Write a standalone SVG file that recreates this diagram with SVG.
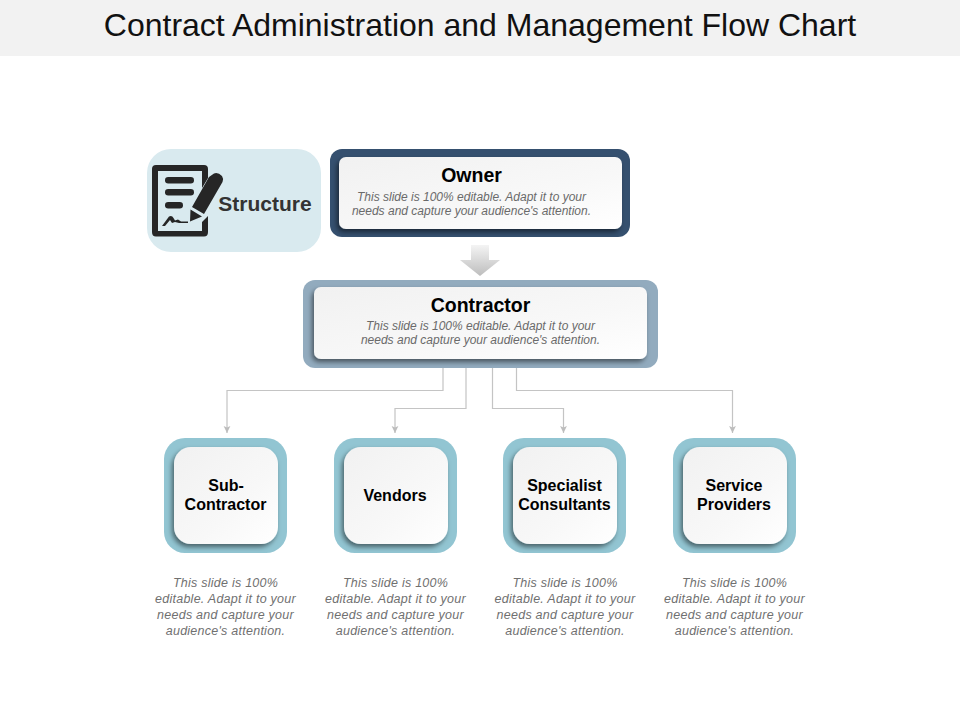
<svg xmlns="http://www.w3.org/2000/svg" width="960" height="720" viewBox="0 0 960 720">
<defs>
<linearGradient id="card" x1="0" y1="0" x2="1" y2="1"><stop offset="0" stop-color="#f1f1f1"/><stop offset="0.6" stop-color="#f8f8f8"/><stop offset="1" stop-color="#ffffff"/></linearGradient>
<linearGradient id="arr" x1="0" y1="0" x2="0" y2="1"><stop offset="0" stop-color="#f4f4f4"/><stop offset="1" stop-color="#bdbdbd"/></linearGradient>
<filter id="sh" x="-20%" y="-20%" width="140%" height="140%"><feDropShadow dx="-2" dy="3" stdDeviation="2.5" flood-color="#000" flood-opacity="0.5"/></filter>
<marker id="ah" markerWidth="8" markerHeight="8" refX="7" refY="4" orient="auto" markerUnits="userSpaceOnUse"><path d="M0,0.6 L7,4 L0,7.4 L1.5,4 Z" fill="#bdbdbd"/></marker>
</defs>
<style>
text{font-family:"Liberation Sans",Arial,sans-serif}
.title{font-size:32px;fill:#111;text-anchor:middle}
.h{font-size:19.5px;font-weight:bold;fill:#000;text-anchor:middle}
.n{font-size:16px;font-weight:bold;fill:#000;text-anchor:middle}
.d{font-size:12px;font-style:italic;fill:#6a6a6a;text-anchor:middle}
.b{font-size:12.5px;font-style:italic;fill:#707070;text-anchor:middle;letter-spacing:0.25px}
.card{fill:url(#card);filter:url(#sh)}
.teal{fill:#92c5d2}
.c{fill:none;stroke:#c4c4c4;stroke-width:1.2;marker-end:url(#ah)}
</style>
<rect width="960" height="720" fill="#fff"/>
<rect id="title-band" width="960" height="56" fill="#f2f2f2"/>
<text class="title" x="480" y="36">Contract Administration and Management Flow Chart</text>

<g id="structure">
<rect x="147" y="149" width="174" height="103" rx="24" fill="#d9eaef"/>
<path fill-rule="evenodd" fill="#262626" d="M156,165 H204 Q208,165 208,169 V178 L202,188 V171 H158 V231 H202 V222 L208,216 V232 Q208,236.500 204,236.500 H156 Q152,236.500 152,232 V169 Q152,165 156,165 Z"/>
<g fill="#262626"><rect x="165" y="177" width="29" height="6.500" rx="3.200"/><rect x="165" y="189" width="29" height="6.500" rx="3.200"/><rect x="165" y="202" width="18" height="6.500" rx="3.200"/></g>
<path fill="#262626" d="M209,177 L214,173.500 Q218,172 222,176 Q224,179 222.500,182 L204,214 L192,207 Z M190.500,209.500 L202,216.500 L190,221.500 Z"/>
<path fill="#262626" d="M162,226 L169,216.500 Q172,215 173.500,218 L175,220.500 L178,219.500 L181,221.500 H188 V223 H179 L175,222 L172,223 L170,220 L165,226 Z"/>
<text x="265" y="211" font-size="21" font-weight="bold" fill="#333" text-anchor="middle">Structure</text>
</g>

<g id="owner">
<rect x="330" y="149" width="300" height="88" rx="12" fill="#35506f"/>
<rect class="card" x="339" y="157" width="283" height="72" rx="7"/>
<text class="h" x="471.500" y="182">Owner</text>
<text class="d" x="471.500" y="201">This slide is 100% editable. Adapt it to your</text>
<text class="d" x="471.500" y="215">needs and capture your audience's attention.</text>
</g>

<path id="flow-arrow" d="M471,245 H489 V260 H500 L480,276 L460,260 H471 Z" fill="url(#arr)"/>

<g id="contractor">
<rect x="303" y="280" width="355" height="88" rx="12" fill="#92abbe"/>
<rect class="card" x="314" y="287" width="333" height="72" rx="7"/>
<text class="h" x="480.500" y="312">Contractor</text>
<text class="d" x="480.500" y="330">This slide is 100% editable. Adapt it to your</text>
<text class="d" x="480.500" y="344">needs and capture your audience's attention.</text>
</g>

<g id="connectors">
<path class="c" d="M443,368 V390.500 H227 V433"/>
<path class="c" d="M466,368 V408.500 H395 V433"/>
<path class="c" d="M492.500,368 V408.500 H563.500 V433"/>
<path class="c" d="M516.500,368 V390.500 H732.500 V433"/>
</g>

<g id="sub-contractor">
<rect class="teal" x="164" y="438" width="123" height="115" rx="21"/>
<rect class="card" x="174" y="447" width="104" height="97" rx="17"/>
<text class="n" x="226" y="490.500">Sub-</text>
<text class="n" x="225.500" y="509.500">Contractor</text>
<text class="b" x="225.500" y="587">This slide is 100%</text>
<text class="b" x="225.500" y="603">editable. Adapt it to your</text>
<text class="b" x="225.500" y="619">needs and capture your</text>
<text class="b" x="225.500" y="635">audience's attention.</text>
</g>

<g id="vendors">
<rect class="teal" x="334" y="438" width="123" height="115" rx="21"/>
<rect class="card" x="344" y="447" width="104" height="97" rx="17"/>
<text class="n" x="395" y="500.500">Vendors</text>
<text class="b" x="395.500" y="587">This slide is 100%</text>
<text class="b" x="395.500" y="603">editable. Adapt it to your</text>
<text class="b" x="395.500" y="619">needs and capture your</text>
<text class="b" x="395.500" y="635">audience's attention.</text>
</g>

<g id="specialist-consultants">
<rect class="teal" x="503" y="438" width="123" height="115" rx="21"/>
<rect class="card" x="513" y="447" width="104" height="97" rx="17"/>
<text class="n" x="564.500" y="490.500">Specialist</text>
<text class="n" x="564.500" y="509.500">Consultants</text>
<text class="b" x="565" y="587">This slide is 100%</text>
<text class="b" x="565" y="603">editable. Adapt it to your</text>
<text class="b" x="565" y="619">needs and capture your</text>
<text class="b" x="565" y="635">audience's attention.</text>
</g>

<g id="service-providers">
<rect class="teal" x="673" y="438" width="123" height="115" rx="21"/>
<rect class="card" x="683" y="447" width="104" height="97" rx="17"/>
<text class="n" x="734" y="490.500">Service</text>
<text class="n" x="734" y="509.500">Providers</text>
<text class="b" x="734.500" y="587">This slide is 100%</text>
<text class="b" x="734.500" y="603">editable. Adapt it to your</text>
<text class="b" x="734.500" y="619">needs and capture your</text>
<text class="b" x="734.500" y="635">audience's attention.</text>
</g>
</svg>
